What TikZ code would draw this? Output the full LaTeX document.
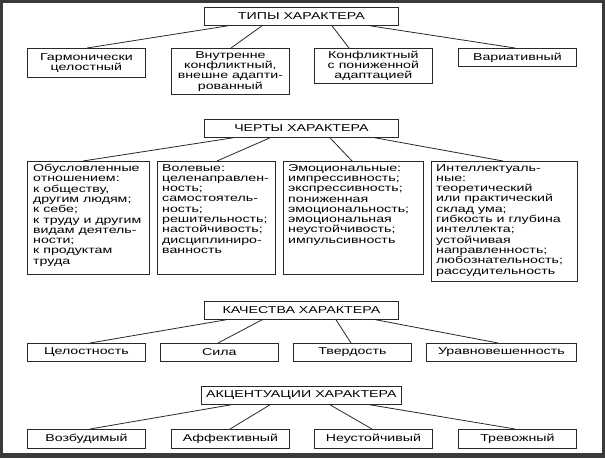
\documentclass[tikz,border=0pt]{standalone}
\usepackage{fontspec}
\setmainfont{Liberation Sans}[FakeStretch=1.42]
\usepackage{tikz}
\definecolor{framegray}{RGB}{58, 58, 58}
\definecolor{linegray}{RGB}{40, 40, 40}
\usetikzlibrary{positioning}

\begin{document}
\begin{tikzpicture}[
    x=1pt, y=-1pt,
    box/.style={rectangle, draw=linegray, line width=0.8pt, fill=white, anchor=north west, inner sep=0pt, align=center, font=\fontsize{10}{10.3}\selectfont},
    title/.style={box, minimum width=194pt, minimum height=18pt},
    kind/.style={box, minimum width=118pt},
    trait/.style={box, minimum height=113pt},
    traittext/.style={anchor=north west, inner sep=0pt, align=left, font=\fontsize{10}{10.3}\selectfont},
    link/.style={draw=linegray, line width=0.8pt}
]
    % Frame
    \fill[framegray] (0,0) rectangle (605,458);
    \fill[white] (3,3) rectangle (602,453);

    % Types
    \node[title] (types) at (204,7) {ТИПЫ ХАРАКТЕРА};
    \node[kind, minimum height=29pt] (harm) at (27,48) {Гармонически\\целостный};
    \node[kind, minimum height=46pt] (inner) at (171,48) {Внутренне\\конфликтный,\\внешне адапти-\\рованный};
    \node[kind, minimum height=35pt] (confl) at (314,48) {Конфликтный\\с пониженной\\адаптацией};
    \node[kind, minimum height=18pt] (var) at (458,48) {Вариативный};

    \draw[link] ([xshift=24pt]types.south west) -- ([xshift=60pt]harm.north west);
    \draw[link] ([xshift=58pt]types.south west) -- ([xshift=60pt]inner.north west);
    \draw[link] ([xshift=128pt]types.south west) -- ([xshift=35pt]confl.north west);
    \draw[link] ([xshift=166pt]types.south west) -- ([xshift=57pt]var.north west);

    % Traits
    \node[title] (traits) at (204,119) {ЧЕРТЫ ХАРАКТЕРА};
    \node[trait, minimum width=122pt] (attit) at (27,161) {};
    \node[trait, minimum width=118pt] (will) at (157,161) {};
    \node[trait, minimum width=140pt] (emot) at (283,161) {};
    \node[trait, minimum width=146pt, minimum height=120pt] (intel) at (431,161) {};

    \node[traittext] (attit-t) at ([shift={(6pt,-3pt)}]attit.north west) {Обусловленные\\отношением:\\к обществу,\\другим людям;\\к себе;\\к труду и другим\\видам деятель-\\ности;\\к продуктам\\труда};
    \node[traittext] (will-t) at ([shift={(5pt,-3pt)}]will.north west) {Волевые:\\целенаправлен-\\ность;\\самостоятель-\\ность;\\решительность;\\настойчивость;\\дисциплиниро-\\ванность};
    \node[traittext] (emot-t) at ([shift={(5pt,-3pt)}]emot.north west) {Эмоциональные:\\импрессивность;\\экспрессивность;\\пониженная\\эмоциональность;\\эмоциональная\\неустойчивость;\\импульсивность};
    \node[traittext] (intel-t) at ([shift={(5pt,-3pt)}]intel.north west) {Интеллектуаль-\\ные:\\теоретический\\или практический\\склад ума;\\гибкость и глубина\\интеллекта;\\устойчивая\\направленность;\\любознательность;\\рассудительность};

    \draw[link] ([xshift=29pt]traits.south west) -- ([xshift=56pt]attit.north west);
    \draw[link] ([xshift=66pt]traits.south west) -- ([xshift=60pt]will.north west);
    \draw[link] ([xshift=126pt]traits.south west) -- ([xshift=69pt]emot.north west);
    \draw[link] ([xshift=171pt]traits.south west) -- ([xshift=72pt]intel.north west);

    % Qualities
    \node[title] (qual) at (204,301) {КАЧЕСТВА ХАРАКТЕРА};
    \node[kind, minimum height=18pt] (whole) at (27,343) {Целостность};
    \node[kind, minimum height=18pt] (force) at (160,343) {Сила};
    \node[kind, minimum height=18pt] (firm) at (293,343) {Твердость};
    \node[kind, minimum height=18pt, minimum width=150pt] (bal) at (426,343) {Уравновешенность};

    \draw[link] ([xshift=22pt]qual.south west) -- ([xshift=63pt]whole.north west);
    \draw[link] ([xshift=58pt]qual.south west) -- ([xshift=58pt]force.north west);
    \draw[link] ([xshift=132pt]qual.south west) -- ([xshift=58pt]firm.north west);
    \draw[link] ([xshift=172pt]qual.south west) -- ([xshift=72pt]bal.north west);

    % Accentuations
    \node[title, minimum width=200pt] (accent) at (201,386) {АКЦЕНТУАЦИИ ХАРАКТЕРА};
    \node[kind, minimum height=19pt] (excit) at (27,429) {Возбудимый};
    \node[kind, minimum height=19pt] (affect) at (171,429) {Аффективный};
    \node[kind, minimum height=19pt] (unstab) at (314,429) {Неустойчивый};
    \node[kind, minimum height=19pt] (anx) at (458,429) {Тревожный};

    \draw[link] ([xshift=30pt]accent.south west) -- ([xshift=63pt]excit.north west);
    \draw[link] ([xshift=69pt]accent.south west) -- ([xshift=59pt]affect.north west);
    \draw[link] ([xshift=129pt]accent.south west) -- ([xshift=58pt]unstab.north west);
    \draw[link] ([xshift=169pt]accent.south west) -- ([xshift=57pt]anx.north west);
\end{tikzpicture}
\end{document}
